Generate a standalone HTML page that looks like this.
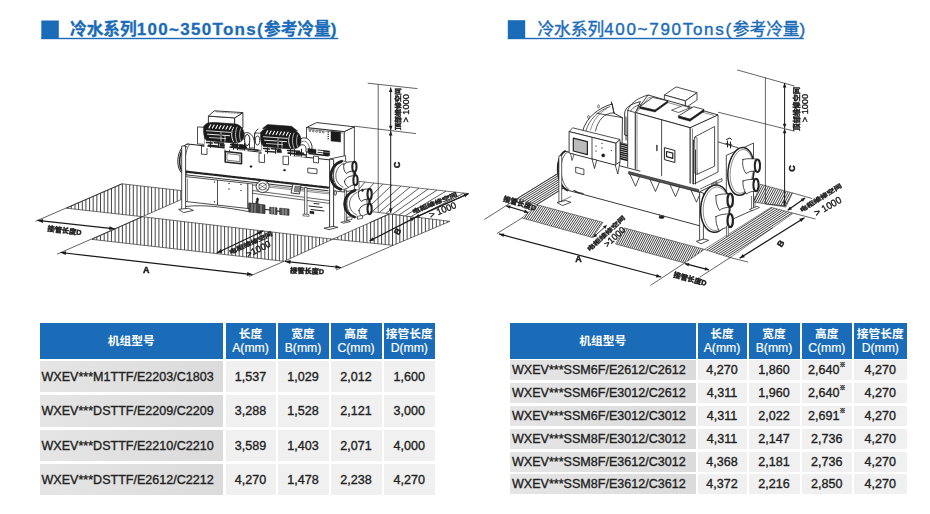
<!DOCTYPE html>
<html lang="zh">
<head>
<meta charset="utf-8">
<title>冷水系列</title>
<style>
html,body{margin:0;padding:0;background:#fff;}
body{width:930px;height:514px;position:relative;overflow:hidden;font-family:"Liberation Sans","Noto Sans CJK SC",sans-serif;color:#222;}
.ttl{position:absolute;top:20.4px;height:17.5px;color:#1a6bb8;font-size:16px;line-height:18px;white-space:nowrap;}

.ttl span{position:absolute;top:0.7px;}
.ttl em{font-style:normal;font-size:17px;letter-spacing:1.3px;}
.ttl .t2 em{letter-spacing:1.7px;}

.c{position:absolute;box-sizing:border-box;white-space:nowrap;overflow:hidden;}
.h{background:#1a6bb8;color:#fff;text-align:center;font-size:11.7px;line-height:14px;font-weight:bold;}
.h b{font-weight:normal;font-size:12.2px;-webkit-text-stroke:0.2px #fff;}
.g{background:linear-gradient(90deg,#e5e5e5,#dbdbdb);font-size:12.55px;padding-left:2px;-webkit-text-stroke:0.35px #222;}
.w{background:#f0f0f0;font-size:12.55px;text-align:center;-webkit-text-stroke:0.35px #222;}
svg{position:absolute;left:0;top:0;}
svg.dw{filter:grayscale(1);}
sup{font-size:6px;vertical-align:top;line-height:10px;}
</style>
</head>
<body>
<div class="ttl" style="left:41.3px;width:296.7px;font-weight:bold;-webkit-text-stroke:0.3px #1a6bb8;"><span style="left:28.7px;font-size:16.7px;">冷水系列<em>100~350Tons(</em>参考冷量<em>)</em></span></div>
<div class="ttl" style="left:507.8px;width:295.7px;font-weight:normal;"><span style="left:29.6px;font-size:16.7px;-webkit-text-stroke:0.4px #1a6bb8;" class="t2">冷水系列<em>400~790Tons(</em>参考冷量<em>)</em></span></div>
<svg width="930" height="60" viewBox="0 0 930 60"><g fill="#1a6bb8"><rect x="41.3" y="20.5" width="17.5" height="18.5"/><rect x="41.3" y="37.8" width="296.9" height="1.4"/><rect x="507.8" y="20.2" width="17.4" height="18.8"/><rect x="507.8" y="37.8" width="296" height="1.4"/></g></svg>
<div class="c h" style="left:39.5px;top:323px;width:183.5px;height:35.5px;line-height:35.5px;">机组型号</div>
<div class="c h" style="left:225.5px;top:323px;width:50.0px;height:35.5px;padding-top:3.75px;">长度<br><b>A(mm)</b></div>
<div class="c h" style="left:277.5px;top:323px;width:51.0px;height:35.5px;padding-top:3.75px;">宽度<br><b>B(mm)</b></div>
<div class="c h" style="left:330.5px;top:323px;width:51.0px;height:35.5px;padding-top:3.75px;">高度<br><b>C(mm)</b></div>
<div class="c h" style="left:383.5px;top:323px;width:51.5px;height:35.5px;padding-top:3.75px;">接管长度<br><b>D(mm)</b></div>
<div class="c g" style="left:39.5px;top:360.5px;width:183.5px;height:31.6px;line-height:32.6px;">WXEV***M1TTF/E2203/C1803</div>
<div class="c w" style="left:225.5px;top:360.5px;width:50.0px;height:31.6px;line-height:32.6px;">1,537</div>
<div class="c w" style="left:277.5px;top:360.5px;width:51.0px;height:31.6px;line-height:32.6px;">1,029</div>
<div class="c w" style="left:330.5px;top:360.5px;width:51.0px;height:31.6px;line-height:32.6px;">2,012</div>
<div class="c w" style="left:383.5px;top:360.5px;width:51.5px;height:31.6px;line-height:32.6px;">1,600</div>
<div class="c g" style="left:39.5px;top:395px;width:183.5px;height:31.6px;line-height:32.6px;">WXEV***DSTTF/E2209/C2209</div>
<div class="c w" style="left:225.5px;top:395px;width:50.0px;height:31.6px;line-height:32.6px;">3,288</div>
<div class="c w" style="left:277.5px;top:395px;width:51.0px;height:31.6px;line-height:32.6px;">1,528</div>
<div class="c w" style="left:330.5px;top:395px;width:51.0px;height:31.6px;line-height:32.6px;">2,121</div>
<div class="c w" style="left:383.5px;top:395px;width:51.5px;height:31.6px;line-height:32.6px;">3,000</div>
<div class="c g" style="left:39.5px;top:429.5px;width:183.5px;height:31.6px;line-height:32.6px;">WXEV***DSTTF/E2210/C2210</div>
<div class="c w" style="left:225.5px;top:429.5px;width:50.0px;height:31.6px;line-height:32.6px;">3,589</div>
<div class="c w" style="left:277.5px;top:429.5px;width:51.0px;height:31.6px;line-height:32.6px;">1,403</div>
<div class="c w" style="left:330.5px;top:429.5px;width:51.0px;height:31.6px;line-height:32.6px;">2,071</div>
<div class="c w" style="left:383.5px;top:429.5px;width:51.5px;height:31.6px;line-height:32.6px;">4,000</div>
<div class="c g" style="left:39.5px;top:463.8px;width:183.5px;height:31.6px;line-height:32.6px;">WXEV***DSTTF/E2612/C2212</div>
<div class="c w" style="left:225.5px;top:463.8px;width:50.0px;height:31.6px;line-height:32.6px;">4,270</div>
<div class="c w" style="left:277.5px;top:463.8px;width:51.0px;height:31.6px;line-height:32.6px;">1,478</div>
<div class="c w" style="left:330.5px;top:463.8px;width:51.0px;height:31.6px;line-height:32.6px;">2,238</div>
<div class="c w" style="left:383.5px;top:463.8px;width:51.5px;height:31.6px;line-height:32.6px;">4,270</div>
<div class="c h" style="left:510px;top:323px;width:185.5px;height:35.5px;line-height:35.5px;">机组型号</div>
<div class="c h" style="left:697.5px;top:323px;width:49.0px;height:35.5px;padding-top:3.75px;">长度<br><b>A(mm)</b></div>
<div class="c h" style="left:748.5px;top:323px;width:51.0px;height:35.5px;padding-top:3.75px;">宽度<br><b>B(mm)</b></div>
<div class="c h" style="left:801.5px;top:323px;width:50.5px;height:35.5px;padding-top:3.75px;">高度<br><b>C(mm)</b></div>
<div class="c h" style="left:854px;top:323px;width:52.5px;height:35.5px;padding-top:3.75px;">接管长度<br><b>D(mm)</b></div>
<div class="c g" style="left:510px;top:360.2px;width:185.5px;height:20.2px;line-height:21.2px;">WXEV***SSM6F/E2612/C2612</div>
<div class="c w" style="left:697.5px;top:360.2px;width:49.0px;height:20.2px;line-height:21.2px;">4,270</div>
<div class="c w" style="left:748.5px;top:360.2px;width:51.0px;height:20.2px;line-height:21.2px;">1,860</div>
<div class="c w" style="left:801.5px;top:360.2px;width:50.5px;height:20.2px;line-height:21.2px;">2,640<sup>※</sup></div>
<div class="c w" style="left:854px;top:360.2px;width:52.5px;height:20.2px;line-height:21.2px;">4,270</div>
<div class="c g" style="left:510px;top:383px;width:185.5px;height:20.2px;line-height:21.2px;">WXEV***SSM6F/E3012/C2612</div>
<div class="c w" style="left:697.5px;top:383px;width:49.0px;height:20.2px;line-height:21.2px;">4,311</div>
<div class="c w" style="left:748.5px;top:383px;width:51.0px;height:20.2px;line-height:21.2px;">1,960</div>
<div class="c w" style="left:801.5px;top:383px;width:50.5px;height:20.2px;line-height:21.2px;">2,640<sup>※</sup></div>
<div class="c w" style="left:854px;top:383px;width:52.5px;height:20.2px;line-height:21.2px;">4,270</div>
<div class="c g" style="left:510px;top:405.9px;width:185.5px;height:20.2px;line-height:21.2px;">WXEV***SSM6F/E3012/C3012</div>
<div class="c w" style="left:697.5px;top:405.9px;width:49.0px;height:20.2px;line-height:21.2px;">4,311</div>
<div class="c w" style="left:748.5px;top:405.9px;width:51.0px;height:20.2px;line-height:21.2px;">2,022</div>
<div class="c w" style="left:801.5px;top:405.9px;width:50.5px;height:20.2px;line-height:21.2px;">2,691<sup>※</sup></div>
<div class="c w" style="left:854px;top:405.9px;width:52.5px;height:20.2px;line-height:21.2px;">4,270</div>
<div class="c g" style="left:510px;top:428.7px;width:185.5px;height:20.2px;line-height:21.2px;">WXEV***SSM8F/E3012/C3012</div>
<div class="c w" style="left:697.5px;top:428.7px;width:49.0px;height:20.2px;line-height:21.2px;">4,311</div>
<div class="c w" style="left:748.5px;top:428.7px;width:51.0px;height:20.2px;line-height:21.2px;">2,147</div>
<div class="c w" style="left:801.5px;top:428.7px;width:50.5px;height:20.2px;line-height:21.2px;">2,736</div>
<div class="c w" style="left:854px;top:428.7px;width:52.5px;height:20.2px;line-height:21.2px;">4,270</div>
<div class="c g" style="left:510px;top:451.5px;width:185.5px;height:20.2px;line-height:21.2px;">WXEV***SSM8F/E3612/C3012</div>
<div class="c w" style="left:697.5px;top:451.5px;width:49.0px;height:20.2px;line-height:21.2px;">4,368</div>
<div class="c w" style="left:748.5px;top:451.5px;width:51.0px;height:20.2px;line-height:21.2px;">2,181</div>
<div class="c w" style="left:801.5px;top:451.5px;width:50.5px;height:20.2px;line-height:21.2px;">2,736</div>
<div class="c w" style="left:854px;top:451.5px;width:52.5px;height:20.2px;line-height:21.2px;">4,270</div>
<div class="c g" style="left:510px;top:474.3px;width:185.5px;height:20.2px;line-height:21.2px;">WXEV***SSM8F/E3612/C3612</div>
<div class="c w" style="left:697.5px;top:474.3px;width:49.0px;height:20.2px;line-height:21.2px;">4,372</div>
<div class="c w" style="left:748.5px;top:474.3px;width:51.0px;height:20.2px;line-height:21.2px;">2,216</div>
<div class="c w" style="left:801.5px;top:474.3px;width:50.5px;height:20.2px;line-height:21.2px;">2,850</div>
<div class="c w" style="left:854px;top:474.3px;width:52.5px;height:20.2px;line-height:21.2px;">4,270</div>
<svg class="dw" width="930" height="514" viewBox="0 0 930 514" font-family="Liberation Sans, Noto Sans CJK SC, sans-serif">
<defs>
<pattern id="hv" width="3.65" height="8" patternUnits="userSpaceOnUse" x="1.2"><rect x="0" y="0" width="1" height="8" fill="#4a4a4a"/></pattern>
<pattern id="hd" width="4.7" height="8" patternUnits="userSpaceOnUse" patternTransform="rotate(45)"><rect x="0" y="0" width="0.8" height="8" fill="#333"/></pattern>
</defs>
<g id="d1">
<path d="M195.4,192.2L195.4,193.3M191.8,191.8L191.8,194.9M188.1,191.3L188.1,196.5M184.5,190.9L184.5,198.1M180.8,190.5L180.8,199.7M177.2,190.1L177.2,201.3M173.5,189.7L173.5,202.9M169.8,189.3L169.8,204.6M166.2,188.8L166.2,206.2M162.6,188.4L162.6,207.8M158.9,188.0L158.9,209.4M155.2,187.6L155.2,211.0M151.6,187.2L151.6,212.6M148.0,186.8L148.0,214.2M144.3,186.3L144.3,215.8M140.7,185.9L140.7,216.5M137.0,185.5L137.0,216.1M133.3,185.1L133.3,215.7M129.7,184.7L129.7,215.3M126.0,214.9L126.1,184.3M122.4,183.8L122.4,214.5M118.8,214.1L118.8,185.2M115.1,213.7L115.1,186.8M111.4,213.2L111.5,188.4M107.8,190.0L107.8,212.8M104.2,191.6L104.2,212.4M100.5,212.0L100.5,193.2M96.8,211.6L96.9,194.8M93.2,196.4L93.2,211.2M89.6,198.0L89.6,210.8M85.9,199.6L85.9,210.4M82.3,201.2L82.3,210.0M78.6,202.8L78.6,209.6M75.0,204.4L75.0,209.2M71.3,206.0L71.3,208.7M67.7,207.7L67.7,208.3" stroke="#444" stroke-width="1.0" fill="none"/>
<polygon points="66.4,208.2 122.0,183.8 197.4,192.4 142.3,216.7" fill="none" stroke="#333" stroke-width="0.7" stroke-linejoin="round" />
<path d="M330.4,238.9L330.4,240.3M326.8,238.5L326.8,241.9M323.1,238.1L323.1,243.6M319.5,237.6L319.5,245.2M315.9,237.2L315.9,246.9M312.2,236.8L312.2,248.5M308.6,236.3L308.6,250.2M304.9,235.9L304.9,251.8M301.2,235.5L301.2,253.5M297.6,235.0L297.6,255.1M293.9,234.6L293.9,256.8M290.3,234.2L290.3,258.4M286.6,233.7L286.6,260.1M283.0,233.3L283.0,261.2M279.4,232.9L279.4,260.8M275.7,232.5L275.7,260.4M272.1,232.0L272.1,259.9M268.4,231.6L268.4,259.5M264.8,231.2L264.8,259.1M261.1,230.7L261.1,258.7M257.4,230.3L257.4,258.3M253.8,229.9L253.8,257.9M250.2,229.4L250.2,257.4M246.5,229.0L246.5,257.0M242.8,256.6L242.9,228.6M239.2,228.1L239.2,256.2M235.6,227.7L235.6,255.8M231.9,227.3L231.9,255.4M228.2,226.9L228.2,254.9M224.6,226.4L224.6,254.5M221.0,226.0L221.0,254.1M217.3,225.6L217.3,253.7M213.7,225.1L213.7,253.3M210.0,224.7L210.0,252.9M206.3,224.3L206.3,252.4M202.7,223.8L202.7,252.0M199.1,223.4L199.1,251.6M195.4,223.0L195.4,251.2M191.8,222.5L191.8,250.8M188.1,222.1L188.1,250.4M184.5,221.7L184.5,249.9M180.8,221.2L180.8,249.5M177.2,220.8L177.2,249.1M173.5,220.4L173.5,248.7M169.8,220.0L169.8,248.3M166.2,219.5L166.2,247.9M162.6,219.1L162.6,247.4M158.9,218.7L158.9,247.0M155.2,218.2L155.2,246.6M151.6,217.8L151.6,246.2M148.0,217.4L148.0,245.8M144.3,216.9L144.3,245.4M140.7,217.4L140.7,244.9M137.0,219.1L137.0,244.5M133.3,220.7L133.3,244.1M129.7,222.4L129.7,243.7M126.1,224.0L126.1,243.3M122.4,225.7L122.4,242.9M118.8,227.3L118.8,242.5M115.1,229.0L115.1,242.0M111.4,241.6L111.5,230.6M107.8,232.3L107.8,241.2M104.2,233.9L104.2,240.8M100.5,240.4L100.5,235.6M96.8,240.0L96.9,237.2M93.2,239.5L93.2,238.9" stroke="#444" stroke-width="1.0" fill="none"/>
<polygon points="142.3,216.7 332.8,239.2 284.0,261.3 92.0,239.4" fill="none" stroke="#333" stroke-width="0.7" stroke-linejoin="round" />
<path d="M447.2,221.0L447.2,222.5M443.6,220.5L443.6,224.0M439.9,220.1L439.9,225.5M436.3,219.6L436.3,227.1M432.6,219.1L432.6,228.6M429.0,218.7L429.0,230.2M425.4,218.2L425.4,231.7M421.7,217.8L421.7,233.3M418.1,217.3L418.1,234.8M414.4,216.9L414.4,236.3M410.8,216.4L410.8,237.9M407.1,216.0L407.1,239.4M403.4,215.5L403.4,241.0M399.8,215.1L399.8,242.5M396.1,214.6L396.1,244.1M392.5,214.1L392.5,245.2M388.9,214.2L388.9,244.9M385.2,215.8L385.2,244.5M381.6,217.4L381.6,244.1M377.9,219.1L377.9,243.8M374.2,220.7L374.2,243.4M370.6,222.3L370.6,243.0M366.9,224.0L366.9,242.6M363.3,225.6L363.3,242.3M359.6,227.2L359.6,241.9M356.0,228.8L356.0,241.5M352.4,230.5L352.4,241.2M348.7,232.1L348.7,240.8M345.1,233.7L345.1,240.4M341.4,235.4L341.4,240.1M337.8,237.0L337.8,239.7M334.1,238.6L334.1,239.3" stroke="#444" stroke-width="1.0" fill="none"/>
<polygon points="332.8,239.2 389.7,213.8 450.0,221.3 393.2,245.3" fill="none" stroke="#333" stroke-width="0.7" stroke-linejoin="round" />
<polygon points="359.0,181.4 468.5,193.6 415.0,217.3 389.7,213.8 359.0,210.2" fill="#fff" stroke="#333" stroke-width="0.7" stroke-linejoin="round" />
<path d="M359.0,189.2L365.0,182.1M359.0,199.6L374.0,183.1M359.0,208.6L383.0,184.1M365.3,210.4L392.0,185.1M372.4,211.4L401.0,186.1M379.3,212.4L410.0,187.1M386.0,213.3L419.0,188.1M392.6,214.1L428.0,189.1M399.1,214.9L437.0,190.1M405.4,215.6L446.0,191.1M411.4,216.3L455.0,192.1M426.5,212.2L464.0,193.1" stroke="#333" stroke-width="0.8" fill="none"/>
<polygon points="306.5,127.5 344.3,131.6 344.3,192.0 306.5,188.0" fill="#fff" stroke="#222" stroke-width="0.8" stroke-linejoin="round" />
<polygon points="344.3,131.6 354.4,126.8 354.4,190.0 344.3,192.0" fill="#fff" stroke="#222" stroke-width="0.8" stroke-linejoin="round" />
<polygon points="306.5,127.5 344.3,131.6 354.4,126.8 316.6,122.6" fill="#fff" stroke="#222" stroke-width="0.9" stroke-linejoin="round" />
<line x1="308.0" y1="129.2" x2="343.0" y2="133.0" stroke="#222" stroke-width="0.5" />
<ellipse cx="310.0" cy="130.7" rx="0.9" ry="0.9" fill="#fff" stroke="#222" stroke-width="0.6"/>
<ellipse cx="313.3" cy="131.1" rx="0.9" ry="0.9" fill="#fff" stroke="#222" stroke-width="0.6"/>
<ellipse cx="316.6" cy="131.4" rx="0.9" ry="0.9" fill="#fff" stroke="#222" stroke-width="0.6"/>
<ellipse cx="319.9" cy="131.8" rx="0.9" ry="0.9" fill="#fff" stroke="#222" stroke-width="0.6"/>
<ellipse cx="323.2" cy="132.1" rx="0.9" ry="0.9" fill="#fff" stroke="#222" stroke-width="0.6"/>
<polygon points="331.0,131.2 340.6,132.2 340.6,142.0 331.0,141.0" fill="#1a1a1a" stroke="#222" stroke-width="0.5" stroke-linejoin="round" />
<rect x="327.6" y="131.5" width="1.2" height="1.2" fill="#1a1a1a"/>
<rect x="327.6" y="133.7" width="1.2" height="1.2" fill="#1a1a1a"/>
<rect x="327.6" y="135.9" width="1.2" height="1.2" fill="#1a1a1a"/>
<rect x="327.6" y="138.1" width="1.2" height="1.2" fill="#1a1a1a"/>
<polygon points="323.5,150.3 329.7,151.0 329.7,155.8 323.5,155.1" fill="#1a1a1a" stroke="#222" stroke-width="0.4" stroke-linejoin="round" />
<line x1="323.5" y1="152.0" x2="329.7" y2="152.7" stroke="#fff" stroke-width="0.4" />
<path d="M299,140 C303,136 310,137 312,146 L312,152 L306,152 L306,148 C305,144 302,144 299,146 Z" fill="#fff" stroke="#222" stroke-width="0.9" stroke-linejoin="round" stroke-linecap="round" />
<path d="M302,141.5 C306,140 309,143 309.5,149" fill="none" stroke="#222" stroke-width="0.6" stroke-linejoin="round" stroke-linecap="round" />
<polygon points="187.7,144.0 330.8,160.0 330.8,191.0 184.8,174.7" fill="#fff" stroke="none" stroke-width="0.8" stroke-linejoin="round" />
<path d="M187.7,144 L330.8,160" fill="none" stroke="#222" stroke-width="1.0" stroke-linejoin="round" stroke-linecap="round" />
<path d="M184.8,174.7 L328,190.7" fill="none" stroke="#222" stroke-width="0.9" stroke-linejoin="round" stroke-linecap="round" />
<path d="M185.6,171.6 L328,187.6" fill="none" stroke="#222" stroke-width="2.2" stroke-linejoin="round" stroke-linecap="round" stroke-dasharray="3 1.2"/>
<path d="M187.7,144 C176,146 174,172 184.8,174.7" fill="#fff" stroke="#222" stroke-width="1.0" stroke-linejoin="round" stroke-linecap="round" />
<path d="M186,146.5 C178.5,150 177.5,169 183.8,172.5" fill="none" stroke="#222" stroke-width="1.6" stroke-linejoin="round" stroke-linecap="round" stroke-dasharray="1.6 1"/>
<path d="M189.5,144.3 C184.5,150 184,168 186.8,174.9" fill="none" stroke="#222" stroke-width="0.7" stroke-linejoin="round" stroke-linecap="round" />
<polygon points="185.6,176.6 247.9,183.4 247.9,208.5 185.6,201.5" fill="#fff" stroke="#222" stroke-width="0.8" stroke-linejoin="round" />
<polygon points="247.9,183.4 252.6,183.9 252.6,209.0 247.9,208.5" fill="#fff" stroke="#222" stroke-width="0.7" stroke-linejoin="round" />
<line x1="217.5" y1="180.1" x2="217.5" y2="205.0" stroke="#222" stroke-width="0.8" />
<line x1="187.5" y1="178.8" x2="187.5" y2="201.5" stroke="#222" stroke-width="0.5" />
<ellipse cx="214.5" cy="182.0" rx="0.6" ry="0.6" fill="#1a1a1a" stroke="#222" stroke-width="0.2"/>
<ellipse cx="214.5" cy="201.8" rx="0.6" ry="0.6" fill="#1a1a1a" stroke="#222" stroke-width="0.2"/>
<ellipse cx="229.0" cy="189.0" rx="0.6" ry="0.6" fill="#1a1a1a" stroke="#222" stroke-width="0.2"/>
<ellipse cx="241.0" cy="190.5" rx="0.6" ry="0.6" fill="#1a1a1a" stroke="#222" stroke-width="0.2"/>
<ellipse cx="241.0" cy="184.5" rx="0.6" ry="0.6" fill="#1a1a1a" stroke="#222" stroke-width="0.2"/>
<ellipse cx="229.0" cy="183.3" rx="0.6" ry="0.6" fill="#1a1a1a" stroke="#222" stroke-width="0.2"/>
<polygon points="181.7,146.0 185.6,146.0 185.6,209.5 181.7,209.5" fill="#fff" stroke="#222" stroke-width="0.8" stroke-linejoin="round" />
<polygon points="178.6,209.3 188.5,208.3 193.4,210.4 183.5,212.6" fill="#fff" stroke="#222" stroke-width="0.8" stroke-linejoin="round" />
<path d="M185.6,206.5 C205,204 230,208 248,211.5" fill="none" stroke="#222" stroke-width="0.8" stroke-linejoin="round" stroke-linecap="round" />
<polygon points="252.6,190.5 329.6,200.6 329.6,203.4 252.6,193.3" fill="#fff" stroke="#222" stroke-width="0.7" stroke-linejoin="round" />
<polygon points="252.6,183.9 329.6,192.6 329.6,194.0 252.6,185.3" fill="#fff" stroke="#222" stroke-width="0.5" stroke-linejoin="round" />
<ellipse cx="262.6" cy="186.5" rx="6.5" ry="6.0" fill="#fff" stroke="#222" stroke-width="0.9"/>
<ellipse cx="262.6" cy="186.5" rx="3.8" ry="3.5" fill="#fff" stroke="#222" stroke-width="0.7"/>
<path d="M257,183 L268,190 M268,183 L257,190" fill="none" stroke="#222" stroke-width="0.5" stroke-linejoin="round" stroke-linecap="round" />
<polygon points="293.0,184.0 301.0,185.0 299.5,194.0 291.0,193.0" fill="#fff" stroke="#222" stroke-width="0.9" stroke-linejoin="round" />
<polygon points="295.0,186.0 300.0,186.6 299.0,192.0 294.0,191.4" fill="#888" stroke="#222" stroke-width="0.4" stroke-linejoin="round" />
<polygon points="304.6,187.4 307.0,187.7 307.0,214.8 304.6,214.5" fill="#fff" stroke="#222" stroke-width="0.7" stroke-linejoin="round" />
<polygon points="303.0,214.0 309.0,214.6 309.0,216.4 303.0,215.8" fill="#fff" stroke="#222" stroke-width="0.6" stroke-linejoin="round" />
<path d="M249,203 L256,203.5 L256,201 L258,201 L258,204 L265,205 L265,213.5 L249,212 Z" fill="#444" stroke="#222" stroke-width="0.7" stroke-linejoin="round" stroke-linecap="round" />
<path d="M252,204 L252,212 M255,204.5 L255,212.3 M261,205 L261,213" fill="none" stroke="#fff" stroke-width="0.5" stroke-linejoin="round" stroke-linecap="round" />
<ellipse cx="257.5" cy="199.5" rx="1.2" ry="1.8" fill="#1a1a1a" stroke="#222" stroke-width="0.3"/>
<path d="M270,207.2 L277,207.9 L277,214.4 L270,213.7 Z M280,208.2 L289,209.1 L289,215.3 L280,214.4 Z" fill="#555" stroke="#222" stroke-width="0.7" stroke-linejoin="round" stroke-linecap="round" />
<path d="M272,207.5 L272,213.8 M274.5,207.7 L274.5,214 M283,208.5 L283,214.6 M286,208.8 L286,215" fill="none" stroke="#fff" stroke-width="0.5" stroke-linejoin="round" stroke-linecap="round" />
<line x1="265.0" y1="209.5" x2="270.0" y2="210.0" stroke="#222" stroke-width="1.2" />
<line x1="277.0" y1="211.0" x2="280.0" y2="211.3" stroke="#222" stroke-width="1.2" />
<path d="M309,206 L322,207.5 M311,209.5 L324,211 M314,203.5 L319,204" fill="none" stroke="#222" stroke-width="1.0" stroke-linejoin="round" stroke-linecap="round" />
<path d="M310,211 l4,0.5 l0,2.5 l-4,-0.5 Z" fill="#1a1a1a" stroke="#222" stroke-width="0.3" stroke-linejoin="round" stroke-linecap="round" />
<polygon points="307.8,168.0 317.0,169.0 317.0,173.8 307.8,172.8" fill="#fff" stroke="#222" stroke-width="0.8" stroke-linejoin="round" />
<ellipse cx="284.5" cy="170.2" rx="1.2" ry="0.9" fill="#1a1a1a" stroke="#222" stroke-width="0.3"/>
<ellipse cx="251.0" cy="166.5" rx="1.2" ry="0.9" fill="#1a1a1a" stroke="#222" stroke-width="0.3"/>
<polygon points="329.6,159.0 345.6,155.6 345.6,163.0 333.6,166.0" fill="#fff" stroke="#222" stroke-width="0.8" stroke-linejoin="round" />
<polygon points="329.6,159.0 333.6,159.6 333.6,227.5 329.6,227.9" fill="#fff" stroke="#222" stroke-width="0.9" stroke-linejoin="round" />
<polygon points="324.0,228.2 333.0,226.4 337.8,227.3 329.0,229.6" fill="#fff" stroke="#222" stroke-width="0.8" stroke-linejoin="round" />
<polygon points="344.8,190.0 346.6,190.0 346.6,221.5 344.8,221.5" fill="#fff" stroke="#222" stroke-width="0.7" stroke-linejoin="round" />
<polygon points="340.8,222.2 348.0,220.8 350.5,221.6 343.5,223.2" fill="#fff" stroke="#222" stroke-width="0.7" stroke-linejoin="round" />
<ellipse cx="343.4" cy="175.2" rx="10.0" ry="14.2" fill="#fff" stroke="#222" stroke-width="0.7"/>
<path d="M341.6,161.3 C327,166 328,186 340.8,189.3" fill="none" stroke="#222" stroke-width="2.8" stroke-linejoin="round" stroke-linecap="round" />
<path d="M343.5,163.5 C333,168 333.5,183.5 343,187" fill="none" stroke="#222" stroke-width="0.7" stroke-linejoin="round" stroke-linecap="round" />
<path d="M344,164.2 C347,161.5 351,161.5 354,162.2 L354.6,171.3 C351,170.8 348.5,171.5 346.5,173.5 C344,171.5 343,167.5 344,164.2 Z" fill="#fff" stroke="#222" stroke-width="0.9" stroke-linejoin="round" stroke-linecap="round" />
<path d="M344.5,181.5 C345,178 349,175.8 355,175.6 L355.8,184.8 C352.5,184.6 350.5,185.6 349,187.5 C346.5,186.5 345,184.5 344.5,181.5 Z" fill="#fff" stroke="#222" stroke-width="0.9" stroke-linejoin="round" stroke-linecap="round" />
<ellipse cx="354.4" cy="166.8" rx="2.1" ry="4.9" fill="#fff" stroke="#222" stroke-width="2.1"/>
<ellipse cx="355.5" cy="180.2" rx="2.1" ry="4.9" fill="#fff" stroke="#222" stroke-width="2.1"/>
<ellipse cx="354.9" cy="173.5" rx="1.1" ry="1.8" fill="#1a1a1a" stroke="#222" stroke-width="0.4"/>
<ellipse cx="357.0" cy="203.5" rx="10.2" ry="13.8" fill="#fff" stroke="#222" stroke-width="0.7"/>
<path d="M355,190.3 C341,195 341.5,213 354.5,217" fill="none" stroke="#222" stroke-width="2.8" stroke-linejoin="round" stroke-linecap="round" />
<path d="M357,192.5 C347,196.5 347,211 356.5,214.8" fill="none" stroke="#222" stroke-width="0.7" stroke-linejoin="round" stroke-linecap="round" />
<path d="M358.5,191.8 C361.5,189.2 365.5,188.8 369,189.2 L369.8,199.2 C366,198.8 363.5,199.5 361.5,201.5 C359,199.5 357.8,195.5 358.5,191.8 Z" fill="#fff" stroke="#222" stroke-width="0.9" stroke-linejoin="round" stroke-linecap="round" />
<path d="M359,210.5 C359.5,207 363.5,204.2 369.2,203.7 L370,213.8 C366.5,213.6 364.5,214.6 363,216.5 C360.5,215.5 359.2,213.5 359,210.5 Z" fill="#fff" stroke="#222" stroke-width="0.9" stroke-linejoin="round" stroke-linecap="round" />
<ellipse cx="369.6" cy="194.2" rx="2.1" ry="5.3" fill="#fff" stroke="#222" stroke-width="2.1"/>
<ellipse cx="369.6" cy="208.8" rx="2.1" ry="5.3" fill="#fff" stroke="#222" stroke-width="2.1"/>
<ellipse cx="369.4" cy="201.5" rx="1.1" ry="1.8" fill="#1a1a1a" stroke="#222" stroke-width="0.4"/>
<ellipse cx="362.5" cy="190.3" rx="1.0" ry="1.4" fill="#1a1a1a" stroke="#222" stroke-width="0.3"/>
<polygon points="347.0,217.3 352.0,216.5 352.0,219.5 347.0,220.3" fill="#fff" stroke="#222" stroke-width="0.7" stroke-linejoin="round" />
<polygon points="357.5,216.3 362.5,215.3 362.5,218.3 357.5,219.3" fill="#fff" stroke="#222" stroke-width="0.7" stroke-linejoin="round" />
<ellipse cx="335.2" cy="193.0" rx="1.2" ry="2.2" fill="#fff" stroke="#222" stroke-width="0.9"/>
<polygon points="208.4,116.1 234.7,117.9 234.7,126.0 208.4,124.0" fill="#fff" stroke="#222" stroke-width="0.9" stroke-linejoin="round" />
<polygon points="234.7,117.9 242.9,112.6 242.9,128.0 234.7,128.0" fill="#fff" stroke="#222" stroke-width="0.9" stroke-linejoin="round" />
<polygon points="214.3,110.8 242.9,112.6 234.7,117.9 208.4,116.1" fill="#fff" stroke="#222" stroke-width="0.9" stroke-linejoin="round" />
<path d="M216,111.8 L241,113.7" fill="none" stroke="#222" stroke-width="0.5" stroke-linejoin="round" stroke-linecap="round" stroke-dasharray="1.5 1.5"/>
<polygon points="201.5,146.2 207.0,146.5 207.0,154.5 201.5,154.2" fill="#fff" stroke="#222" stroke-width="0.8" stroke-linejoin="round" />
<polygon points="225.0,146.8 229.5,147.1 229.5,152.6 225.0,152.3" fill="#fff" stroke="#222" stroke-width="0.8" stroke-linejoin="round" />
<polygon points="197.5,126.9 204.5,127.4 204.5,144.4 197.5,143.9" fill="#fff" stroke="#222" stroke-width="0.8" stroke-linejoin="round" />
<polygon points="204.5,138.4 243.5,141.1 247.5,145.4 247.5,150.9 204.5,147.9" fill="#fff" stroke="none" stroke-width="0.8" stroke-linejoin="round" />
<path d="M204.0,126.3C205.5,122.9 209.5,122.2 215.5,122.6L235.5,124.0C241.5,125.0 244.5,130.2 244.0,136.1C243.5,141.1 239.5,143.3 233.5,142.9L206.5,140.5C203.5,137.3 203.0,130.3 204.0,126.3Z" fill="#1a1a1a" stroke="#222" stroke-width="0.7" stroke-linejoin="round" stroke-linecap="round" />
<path d="M209.0,127.9L210.7,124.8" fill="none" stroke="#fff" stroke-width="1.1" stroke-linejoin="round" stroke-linecap="round" />
<path d="M212.4,128.1L214.1,125.0" fill="none" stroke="#fff" stroke-width="1.1" stroke-linejoin="round" stroke-linecap="round" />
<path d="M215.8,128.4L217.5,125.3" fill="none" stroke="#fff" stroke-width="1.1" stroke-linejoin="round" stroke-linecap="round" />
<path d="M219.2,128.6L220.9,125.5" fill="none" stroke="#fff" stroke-width="1.1" stroke-linejoin="round" stroke-linecap="round" />
<path d="M222.6,128.8L224.3,125.8" fill="none" stroke="#fff" stroke-width="1.1" stroke-linejoin="round" stroke-linecap="round" />
<path d="M226.0,129.1L227.7,126.0" fill="none" stroke="#fff" stroke-width="1.1" stroke-linejoin="round" stroke-linecap="round" />
<path d="M229.4,129.3L231.1,126.2" fill="none" stroke="#fff" stroke-width="1.1" stroke-linejoin="round" stroke-linecap="round" />
<path d="M206.5,130.7L230.5,132.4" fill="none" stroke="#fff" stroke-width="0.8" stroke-linejoin="round" stroke-linecap="round" />
<path d="M207.5,134.2L219.5,135.0M222.5,135.2L229.5,135.7" fill="none" stroke="#fff" stroke-width="0.9" stroke-linejoin="round" stroke-linecap="round" />
<path d="M209.5,137.5L225.5,138.6" fill="none" stroke="#fff" stroke-width="0.7" stroke-linejoin="round" stroke-linecap="round" />
<path d="M221.0,132.5L221.0,141.0M225.0,136.3L225.0,141.3" fill="none" stroke="#fff" stroke-width="0.7" stroke-linejoin="round" stroke-linecap="round" />
<path d="M233.5,127.4C231.0,131.2 231.0,137.2 233.5,141.9" fill="none" stroke="#fff" stroke-width="0.9" stroke-linejoin="round" stroke-linecap="round" />
<path d="M237.0,127.1C235.0,131.5 235.0,137.5 237.0,142.1" fill="none" stroke="#fff" stroke-width="0.7" stroke-linejoin="round" stroke-linecap="round" />
<path d="M240.5,128.9C239.2,132.8 239.2,136.8 240.5,140.9" fill="none" stroke="#fff" stroke-width="0.6" stroke-linejoin="round" stroke-linecap="round" />
<path d="M206.5,142.5L212.5,142.9M214.5,142.7L223.5,143.3M230.5,144.4L242.5,145.2M208.5,145.2L217.5,145.9M231.5,147.3L239.5,147.8M241.5,147.0L246.5,147.3" fill="none" stroke="#222" stroke-width="1.5" stroke-linejoin="round" stroke-linecap="round" />
<path d="M210.5,141.8L210.5,147.3M218.5,142.4L218.5,147.4M233.5,143.4L233.5,149.4M237.5,143.7L237.5,149.7M244.5,143.2L244.5,150.2" fill="none" stroke="#222" stroke-width="1.0" stroke-linejoin="round" stroke-linecap="round" />
<path d="M220.0,144.0L224.5,144.3L224.5,146.8L220.0,146.5Z" fill="#1a1a1a" stroke="#222" stroke-width="0.4" stroke-linejoin="round" stroke-linecap="round" />
<path d="M239.0,145.6L243.5,145.9L243.5,149.6L239.0,149.3Z" fill="#1a1a1a" stroke="#222" stroke-width="0.4" stroke-linejoin="round" stroke-linecap="round" />
<path d="M244.5,133 C250,131 254,136 254.5,143 L254.5,148 L249.5,148 L249.5,144 C249,140 247,139 244.5,139.5 Z" fill="#fff" stroke="#222" stroke-width="0.9" stroke-linejoin="round" stroke-linecap="round" />
<ellipse cx="247.2" cy="140.0" rx="2.6" ry="5.5" fill="#fff" stroke="#222" stroke-width="1.0"/>
<polygon points="225.2,151.5 241.5,153.3 241.5,163.8 225.2,162.0" fill="#fff" stroke="#222" stroke-width="1.6" stroke-linejoin="round" />
<polygon points="227.0,153.6 239.8,155.0 239.8,161.6 227.0,160.2" fill="#fff" stroke="#222" stroke-width="0.6" stroke-linejoin="round" />
<polygon points="259.0,153.2 264.5,153.6 264.5,162.6 259.0,162.2" fill="#fff" stroke="#222" stroke-width="0.8" stroke-linejoin="round" />
<polygon points="283.0,155.9 288.5,156.3 288.5,164.8 283.0,164.4" fill="#fff" stroke="#222" stroke-width="0.8" stroke-linejoin="round" />
<polygon points="254.5,132.9 261.5,133.4 261.5,150.4 254.5,149.9" fill="#fff" stroke="#222" stroke-width="0.8" stroke-linejoin="round" />
<polygon points="261.5,144.4 300.5,147.1 304.5,151.4 304.5,156.9 261.5,153.9" fill="#fff" stroke="none" stroke-width="0.8" stroke-linejoin="round" />
<path d="M261.0,132.3C262.5,128.9 266.5,128.2 272.5,128.6L292.5,130.0C298.5,131.0 301.5,136.2 301.0,142.1C300.5,147.1 296.5,149.3 290.5,148.9L263.5,146.5C260.5,143.3 260.0,136.3 261.0,132.3Z" fill="#1a1a1a" stroke="#222" stroke-width="0.7" stroke-linejoin="round" stroke-linecap="round" />
<path d="M266.0,133.9L267.7,130.8" fill="none" stroke="#fff" stroke-width="1.1" stroke-linejoin="round" stroke-linecap="round" />
<path d="M269.4,134.1L271.1,131.0" fill="none" stroke="#fff" stroke-width="1.1" stroke-linejoin="round" stroke-linecap="round" />
<path d="M272.8,134.4L274.5,131.3" fill="none" stroke="#fff" stroke-width="1.1" stroke-linejoin="round" stroke-linecap="round" />
<path d="M276.2,134.6L277.9,131.5" fill="none" stroke="#fff" stroke-width="1.1" stroke-linejoin="round" stroke-linecap="round" />
<path d="M279.6,134.8L281.3,131.8" fill="none" stroke="#fff" stroke-width="1.1" stroke-linejoin="round" stroke-linecap="round" />
<path d="M283.0,135.1L284.7,132.0" fill="none" stroke="#fff" stroke-width="1.1" stroke-linejoin="round" stroke-linecap="round" />
<path d="M286.4,135.3L288.1,132.2" fill="none" stroke="#fff" stroke-width="1.1" stroke-linejoin="round" stroke-linecap="round" />
<path d="M263.5,136.7L287.5,138.4" fill="none" stroke="#fff" stroke-width="0.8" stroke-linejoin="round" stroke-linecap="round" />
<path d="M264.5,140.2L276.5,141.0M279.5,141.2L286.5,141.7" fill="none" stroke="#fff" stroke-width="0.9" stroke-linejoin="round" stroke-linecap="round" />
<path d="M266.5,143.5L282.5,144.6" fill="none" stroke="#fff" stroke-width="0.7" stroke-linejoin="round" stroke-linecap="round" />
<path d="M278.0,138.5L278.0,147.0M282.0,142.3L282.0,147.3" fill="none" stroke="#fff" stroke-width="0.7" stroke-linejoin="round" stroke-linecap="round" />
<path d="M290.5,133.4C288.0,137.2 288.0,143.2 290.5,147.9" fill="none" stroke="#fff" stroke-width="0.9" stroke-linejoin="round" stroke-linecap="round" />
<path d="M294.0,133.1C292.0,137.5 292.0,143.5 294.0,148.1" fill="none" stroke="#fff" stroke-width="0.7" stroke-linejoin="round" stroke-linecap="round" />
<path d="M297.5,134.9C296.2,138.8 296.2,142.8 297.5,146.9" fill="none" stroke="#fff" stroke-width="0.6" stroke-linejoin="round" stroke-linecap="round" />
<path d="M263.5,148.5L269.5,148.9M271.5,148.7L280.5,149.3M287.5,150.4L299.5,151.2M265.5,151.2L274.5,151.9M288.5,153.3L296.5,153.8M298.5,153.0L303.5,153.3" fill="none" stroke="#222" stroke-width="1.5" stroke-linejoin="round" stroke-linecap="round" />
<path d="M267.5,147.8L267.5,153.3M275.5,148.4L275.5,153.4M290.5,149.4L290.5,155.4M294.5,149.7L294.5,155.7M301.5,149.2L301.5,156.2" fill="none" stroke="#222" stroke-width="1.0" stroke-linejoin="round" stroke-linecap="round" />
<path d="M277.0,150.0L281.5,150.3L281.5,152.8L277.0,152.5Z" fill="#1a1a1a" stroke="#222" stroke-width="0.4" stroke-linejoin="round" stroke-linecap="round" />
<path d="M296.0,151.6L300.5,151.9L300.5,155.6L296.0,155.3Z" fill="#1a1a1a" stroke="#222" stroke-width="0.4" stroke-linejoin="round" stroke-linecap="round" />
<polygon points="262.5,128.5 267.5,124.6 291.5,126.3 297.5,131.0" fill="#1a1a1a" stroke="#222" stroke-width="0.6" stroke-linejoin="round" />
<path d="M258,129 C254,131 253,140 257,144" fill="none" stroke="#222" stroke-width="0.9" stroke-linejoin="round" stroke-linecap="round" />
<ellipse cx="257.5" cy="140.5" rx="2.2" ry="4.5" fill="#fff" stroke="#222" stroke-width="0.9"/>
<path d="M208,146 L224,147.8 M230,147 L258,150.2 M288,153 L306,155 M309,153.5 L328,155.8" fill="none" stroke="#222" stroke-width="1.5" stroke-linejoin="round" stroke-linecap="round" />
<path d="M232,143.5 l5,0.6 l0,3 l-5,-0.6 Z M240,144.5 l6,0.7 l0,3.5 l-6,-0.7 Z" fill="#1a1a1a" stroke="#222" stroke-width="0.5" stroke-linejoin="round" stroke-linecap="round" />
<path d="M308,148.5 l8,0.9 l0,4 l-8,-0.9 Z" fill="#1a1a1a" stroke="#222" stroke-width="0.5" stroke-linejoin="round" stroke-linecap="round" />
<path d="M318,150 l6,0.7 M318,152.3 l6,0.7" fill="none" stroke="#222" stroke-width="0.9" stroke-linejoin="round" stroke-linecap="round" />
<polygon points="313.5,156.0 318.5,156.6 318.5,163.0 313.5,162.4" fill="#fff" stroke="#222" stroke-width="0.8" stroke-linejoin="round" />
<line x1="122.0" y1="183.8" x2="35.5" y2="221.3" stroke="#222" stroke-width="0.7" />
<line x1="142.3" y1="216.7" x2="57.0" y2="254.2" stroke="#222" stroke-width="0.7" />
<line x1="284.0" y1="261.3" x2="249.0" y2="276.5" stroke="#222" stroke-width="0.7" />
<line x1="393.2" y1="245.3" x2="336.0" y2="270.0" stroke="#222" stroke-width="0.7" />
<line x1="389.7" y1="213.8" x2="369.5" y2="222.8" stroke="#222" stroke-width="0.7" />
<line x1="37.5" y1="220.4" x2="114.8" y2="228.8" stroke="#1a1a1a" stroke-width="1.25" />
<polygon points="114.8,228.8 109.1,230.1 109.5,226.3" fill="#1a1a1a"/>
<polygon points="37.5,220.4 43.2,219.1 42.8,222.9" fill="#1a1a1a"/>
<line x1="60.5" y1="252.5" x2="252.5" y2="274.6" stroke="#1a1a1a" stroke-width="1.25" />
<polygon points="252.5,274.6 246.8,275.9 247.3,272.1" fill="#1a1a1a"/>
<polygon points="60.5,252.5 66.2,251.2 65.7,255.0" fill="#1a1a1a"/>
<line x1="285.0" y1="261.4" x2="341.0" y2="267.5" stroke="#1a1a1a" stroke-width="1.25" />
<polygon points="341.0,267.5 335.3,268.8 335.7,265.0" fill="#1a1a1a"/>
<polygon points="285.0,261.4 290.7,260.1 290.3,263.9" fill="#1a1a1a"/>
<line x1="216.7" y1="253.0" x2="263.4" y2="230.8" stroke="#1a1a1a" stroke-width="1.25" />
<polygon points="263.4,230.8 259.2,234.9 257.6,231.4" fill="#1a1a1a"/>
<polygon points="216.7,253.0 220.9,248.9 222.5,252.4" fill="#1a1a1a"/>
<line x1="369.5" y1="241.0" x2="415.0" y2="217.6" stroke="#1a1a1a" stroke-width="1.25" />
<polygon points="415.0,217.6 411.9,221.3 410.1,218.0" fill="#1a1a1a"/>
<polygon points="369.5,241.0 372.6,237.3 374.4,240.6" fill="#1a1a1a"/>
<line x1="415.0" y1="217.6" x2="468.5" y2="193.6" stroke="#1a1a1a" stroke-width="1.25" />
<polygon points="468.5,193.6 465.2,197.2 463.6,193.7" fill="#1a1a1a"/>
<polygon points="415.0,217.6 418.3,214.0 419.9,217.5" fill="#1a1a1a"/>
<line x1="378.2" y1="84.3" x2="378.2" y2="212.0" stroke="#222" stroke-width="0.7" />
<line x1="367.7" y1="83.2" x2="417.4" y2="88.6" stroke="#222" stroke-width="0.7" />
<line x1="354.4" y1="126.2" x2="416.0" y2="133.6" stroke="#222" stroke-width="0.7" />
<line x1="390.7" y1="87.5" x2="390.7" y2="130.3" stroke="#1a1a1a" stroke-width="1.0" />
<polygon points="390.7,130.3 388.9,125.8 392.5,125.8" fill="#1a1a1a"/>
<polygon points="390.7,87.5 392.5,92.0 388.9,92.0" fill="#1a1a1a"/>
<line x1="390.7" y1="130.9" x2="390.7" y2="212.9" stroke="#1a1a1a" stroke-width="1.0" />
<polygon points="390.7,212.9 388.9,208.4 392.5,208.4" fill="#1a1a1a"/>
<polygon points="390.7,130.9 392.5,135.4 388.9,135.4" fill="#1a1a1a"/>
<text transform="translate(64.5 230.6) rotate(7) scale(1 1.0)" x="0" y="2.59" font-size="7.2" font-weight="bold" text-anchor="middle" fill="#1a1a1a" stroke="#1a1a1a" stroke-width="0.45">接管长度D</text>
<text transform="translate(146.3 270.0) rotate(0) scale(1 1.0)" x="0" y="3.24" font-size="9" font-weight="bold" text-anchor="middle" fill="#1a1a1a" stroke="#1a1a1a" stroke-width="0.45">A</text>
<text transform="translate(307.0 271.0) rotate(2) scale(1 1.0)" x="0" y="2.59" font-size="7.2" font-weight="bold" text-anchor="middle" fill="#1a1a1a" stroke="#1a1a1a" stroke-width="0.45">接管长度D</text>
<text transform="translate(250.8 243.0) rotate(-24) scale(1 0.75)" x="0" y="2.81" font-size="7.8" font-weight="bold" text-anchor="middle" fill="#1a1a1a" stroke="#1a1a1a" stroke-width="0.45">电柜维修空间</text>
<text transform="translate(258.2 248.9) rotate(-27) scale(1 1.0)" x="0" y="3.35" font-size="9.3" font-weight="normal" text-anchor="middle" fill="#1a1a1a" stroke="#1a1a1a" stroke-width="0.35">&gt;1000</text>
<text transform="translate(434.7 203.0) rotate(-22.2) scale(1 0.72)" x="0" y="2.88" font-size="8" font-weight="bold" text-anchor="middle" fill="#1a1a1a" stroke="#1a1a1a" stroke-width="0.45">电柜维修空间</text>
<text transform="translate(442.6 209.8) rotate(-22) scale(1 1.0)" x="0" y="3.31" font-size="9.2" font-weight="normal" text-anchor="middle" fill="#1a1a1a" stroke="#1a1a1a" stroke-width="0.35">&gt; 1000</text>
<text transform="translate(397.5 231.4) rotate(-62) scale(1 1.0)" x="0" y="3.06" font-size="8.5" font-weight="bold" text-anchor="middle" fill="#1a1a1a" stroke="#1a1a1a" stroke-width="0.45">B</text>
<text transform="translate(397.0 165.0) rotate(-90) scale(1 1.0)" x="0" y="3.24" font-size="9" font-weight="bold" text-anchor="middle" fill="#1a1a1a" stroke="#1a1a1a" stroke-width="0.45">C</text>
<text transform="translate(397.4 109.0) rotate(-90) scale(1 0.88)" x="0" y="2.54" font-size="7.05" font-weight="bold" text-anchor="middle" fill="#1a1a1a" stroke="#1a1a1a" stroke-width="0.45">顶部维修空间</text>
<text transform="translate(405.9 108.4) rotate(-90) scale(1 1.0)" x="0" y="3.31" font-size="9.2" font-weight="normal" text-anchor="middle" fill="#1a1a1a" stroke="#1a1a1a" stroke-width="0.35">&gt; 1000</text>
</g>
<defs>
<pattern id="hb" width="1.9" height="8" patternUnits="userSpaceOnUse" patternTransform="rotate(58)"><rect x="0" y="0" width="0.95" height="8" fill="#333"/></pattern>
<pattern id="hr" width="2.0" height="8" patternUnits="userSpaceOnUse" patternTransform="rotate(30)"><rect x="0" y="0" width="0.9" height="8" fill="#333"/></pattern>
</defs>
<g id="d2">
<path d="M517.4,198.5L557.7,173.7M519.8,199.3L564.4,171.8M522.2,200.0L566.8,172.5M524.6,200.8L569.2,173.3M527.0,201.5L571.5,174.0M529.4,202.3L573.9,174.8M531.8,203.1L576.3,175.6M534.2,203.8L578.7,176.3M536.5,204.6L581.1,177.1" stroke="#3c3c3c" stroke-width="0.98" fill="none"/>
<polygon points="517.4,198.5 562.0,171.0 581.5,177.2 536.9,204.7" fill="none" stroke="#333" stroke-width="0.6" stroke-linejoin="round" />
<path d="M522.1,218.0L522.4,217.6M524.1,218.6L528.2,212.5M526.0,219.1L533.9,207.3M527.9,219.6L537.8,205.0M529.9,220.2L539.8,205.5M531.8,220.7L541.7,206.0M533.7,221.2L543.7,206.5M535.7,221.8L545.6,207.0M537.6,222.3L547.5,207.6M539.5,222.9L549.5,208.1M541.5,223.4L551.4,208.6M543.4,223.9L553.4,209.1M545.3,224.5L555.3,209.6M547.2,225.0L557.3,210.2M549.2,225.5L559.2,210.7M551.1,226.1L561.1,211.2M553.0,226.6L563.1,211.7M555.0,227.1L565.0,212.2M556.9,227.7L567.0,212.7M558.8,228.2L568.9,213.3M560.8,228.7L570.8,213.8M562.7,229.3L572.8,214.3M564.6,229.8L574.7,214.8M566.6,230.3L576.7,215.3M568.5,230.9L578.6,215.9M570.4,231.4L580.5,216.4M572.4,231.9L582.5,216.9M574.3,232.5L584.4,217.4M576.2,233.0L586.4,217.9M578.1,233.5L588.3,218.5M580.1,234.1L590.3,219.0M582.0,234.6L592.2,219.5M583.9,235.1L594.1,220.0M585.9,235.7L596.1,220.5M587.8,236.2L598.0,221.1M589.7,236.8L600.0,221.6M591.7,237.3L601.9,222.1" stroke="#3c3c3c" stroke-width="0.98" fill="none"/>
<polygon points="536.9,204.7 603.0,222.4 592.8,237.6 522.0,218.0" fill="none" stroke="#333" stroke-width="0.6" stroke-linejoin="round" />
<path d="M616.8,244.3L625.3,228.3M618.7,244.8L627.2,228.8M620.6,245.3L629.1,229.3M622.5,245.8L631.0,229.8M624.3,246.3L632.9,230.3M626.2,246.9L634.8,230.8M628.1,247.4L636.6,231.3M630.0,247.9L638.5,231.8M631.8,248.4L640.4,232.3M633.7,248.9L642.3,232.8M635.6,249.5L644.2,233.3M637.5,250.0L646.1,233.8M639.3,250.5L647.9,234.3M641.2,251.0L649.8,234.8M643.1,251.5L651.7,235.3M645.0,252.0L653.6,235.8M646.8,252.6L655.5,236.3M648.7,253.1L657.4,236.8M650.6,253.6L659.3,237.3M652.5,254.1L661.1,237.8M654.3,254.6L663.0,238.3M656.2,255.2L664.9,238.8M658.1,255.7L666.8,239.3M660.0,256.2L668.7,239.8M661.9,256.7L670.6,240.3M663.7,257.2L672.4,240.8M665.6,257.7L674.3,241.3M667.5,258.3L676.2,241.8M669.4,258.8L678.1,242.3M671.2,259.3L680.0,242.9M673.1,259.8L681.9,243.4M675.0,260.3L683.8,243.9M676.9,260.9L685.6,244.4M678.7,261.4L687.5,244.9M680.6,261.9L689.4,245.4M682.5,262.4L691.3,245.9M684.4,262.9L693.2,246.4M687.6,261.0L695.1,246.9M690.9,258.7L696.9,247.4M694.3,256.4L698.8,247.9M697.7,254.0L700.7,248.4M701.1,251.7L702.6,248.9M704.5,249.4L704.5,249.4" stroke="#3c3c3c" stroke-width="0.98" fill="none"/>
<polygon points="624.0,227.9 704.5,249.4 684.6,263.0 615.5,243.9" fill="none" stroke="#333" stroke-width="0.6" stroke-linejoin="round" />
<path d="M706.8,250.1L772.1,207.7M709.1,250.9L774.6,208.3M711.4,251.6L777.1,209.0M713.8,252.4L779.6,209.6M716.1,253.1L782.1,210.3M718.5,253.9L784.6,210.9M720.8,254.6L787.1,211.6M723.1,255.3L789.5,212.2M725.5,256.1L792.0,212.9M727.8,256.8L772.8,227.6M730.2,257.6L731.0,257.0" stroke="#3c3c3c" stroke-width="0.98" fill="none"/>
<polygon points="704.5,249.4 771.0,207.4 793.3,213.2 730.2,257.6" fill="none" stroke="#333" stroke-width="0.6" stroke-linejoin="round" />
<path d="M760.2,184.9L760.5,184.3M754.3,200.3L762.5,184.9M755.5,202.3L764.4,185.4M757.6,202.6L766.4,185.9M759.6,202.9L768.4,186.5M761.7,203.3L770.4,187.0M763.8,203.6L772.4,187.5M765.9,203.9L774.4,188.1M768.0,204.2L776.3,188.6M770.1,204.5L778.3,189.1M772.2,204.9L780.3,189.6M774.3,205.2L782.3,190.2M776.4,205.5L784.3,190.7M778.5,205.8L786.2,191.2M780.6,206.2L788.2,191.8M782.7,206.5L790.2,192.3M784.8,206.8L792.2,192.8" stroke="#3c3c3c" stroke-width="0.98" fill="none"/>
<polygon points="753.6,202.0 760.4,184.3 792.4,192.9 786.0,207.0" fill="none" stroke="#333" stroke-width="0.6" stroke-linejoin="round" />
<path d="M611.9,104 C598,108 586,118 582.7,131 L583,150 L622,150 L622.4,117.6 L614.2,113.3 Z" fill="#fff" stroke="#222" stroke-width="0.9" stroke-linejoin="round" stroke-linecap="round" />
<path d="M611.9,104 L614.2,113.3" fill="none" stroke="#222" stroke-width="0.8" stroke-linejoin="round" stroke-linecap="round" />
<path d="M610,106.5 C598,110.5 589,119.5 585.7,131.5" fill="none" stroke="#222" stroke-width="0.7" stroke-linejoin="round" stroke-linecap="round" />
<path d="M607,108.5 C599,113 593,120 590.5,130" fill="none" stroke="#222" stroke-width="0.5" stroke-linejoin="round" stroke-linecap="round" />
<path d="M614,112.8 C604,113 598,120 595.5,131" fill="none" stroke="#222" stroke-width="0.8" stroke-linejoin="round" stroke-linecap="round" />
<path d="M597,113.3 L622.4,117.6" fill="none" stroke="#222" stroke-width="0.8" stroke-linejoin="round" stroke-linecap="round" />
<ellipse cx="598.5" cy="106.5" rx="0.9" ry="1.6" fill="#fff" stroke="#222" stroke-width="0.6"/>
<ellipse cx="588.5" cy="117.0" rx="0.9" ry="1.6" fill="#fff" stroke="#222" stroke-width="0.6"/>
<path d="M611.3,102 L612,104.5" fill="none" stroke="#222" stroke-width="1.0" stroke-linejoin="round" stroke-linecap="round" />
<polygon points="620.0,142.5 631.0,145.2 631.0,161.0 620.0,158.3" fill="#fff" stroke="#222" stroke-width="0.7" stroke-linejoin="round" />
<line x1="620.0" y1="143.8" x2="631.0" y2="146.5" stroke="#1a1a1a" stroke-width="1.4" />
<line x1="620.0" y1="145.9" x2="631.0" y2="148.6" stroke="#1a1a1a" stroke-width="1.4" />
<line x1="620.0" y1="148.0" x2="631.0" y2="150.7" stroke="#1a1a1a" stroke-width="1.4" />
<line x1="620.0" y1="150.1" x2="631.0" y2="152.8" stroke="#1a1a1a" stroke-width="1.4" />
<line x1="620.0" y1="152.2" x2="631.0" y2="154.9" stroke="#1a1a1a" stroke-width="1.4" />
<line x1="620.0" y1="154.3" x2="631.0" y2="157.0" stroke="#1a1a1a" stroke-width="1.4" />
<line x1="620.0" y1="156.4" x2="631.0" y2="159.1" stroke="#1a1a1a" stroke-width="1.4" />
<line x1="620.0" y1="158.5" x2="631.0" y2="161.2" stroke="#1a1a1a" stroke-width="1.4" />
<polygon points="714.0,141.0 740.0,148.5 740.0,200.0 714.0,194.0" fill="#fff" stroke="none" stroke-width="0.8" stroke-linejoin="round" />
<path d="M716,141.3 L738,147.8" fill="none" stroke="#222" stroke-width="0.8" stroke-linejoin="round" stroke-linecap="round" />
<polygon points="726.3,155.4 753.5,143.1 753.5,209.8 726.3,222.0" fill="#fff" stroke="#222" stroke-width="0.8" stroke-linejoin="round" />
<polygon points="749.5,209.5 757.0,206.3 759.5,207.5 752.0,210.8" fill="#fff" stroke="#222" stroke-width="0.7" stroke-linejoin="round" />
<line x1="751.5" y1="196.0" x2="751.5" y2="209.0" stroke="#222" stroke-width="0.6" />
<line x1="755.0" y1="196.0" x2="755.0" y2="207.5" stroke="#222" stroke-width="0.6" />
<ellipse cx="741.0" cy="171.4" rx="13.0" ry="24.0" fill="#fff" stroke="#222" stroke-width="1.5" transform="rotate(6 741.0 171.4)"/>
<ellipse cx="741.6" cy="171.4" rx="11.3" ry="22.0" fill="none" stroke="#222" stroke-width="0.5" transform="rotate(6 741.6 171.4)"/>
<path d="M743,159.5 C748,158 752,159 757,159 L757,170.8 C752,171 749,171.5 746,173.5 C743,169 742,164 743,159.5 Z" fill="#fff" stroke="#222" stroke-width="0.8" stroke-linejoin="round" stroke-linecap="round" />
<ellipse cx="757.4" cy="165.8" rx="2.6" ry="6.3" fill="#fff" stroke="#222" stroke-width="2.0"/>
<path d="M743,181 C748,179 752,179.5 755.5,179.5 L755.5,191 C752,191.3 749,192 746.5,194 C743.5,190 742.5,185 743,181 Z" fill="#fff" stroke="#222" stroke-width="0.8" stroke-linejoin="round" stroke-linecap="round" />
<ellipse cx="756.0" cy="185.0" rx="2.6" ry="6.3" fill="#fff" stroke="#222" stroke-width="2.0"/>
<path d="M727.5,141 L727.5,147 M730.5,142 L730.5,148 M726,143.5 L732,145" fill="none" stroke="#222" stroke-width="1.0" stroke-linejoin="round" stroke-linecap="round" />
<path d="M726.5,139.5 l3.5,-1.5 l1.5,1.5" fill="none" stroke="#222" stroke-width="1.0" stroke-linejoin="round" stroke-linecap="round" />
<path d="M640,101.7 C630,104 625,108 624.7,113 L624.7,135 L636,138 L636,112 Z" fill="#fff" stroke="#222" stroke-width="0.9" stroke-linejoin="round" stroke-linecap="round" />
<path d="M642,104 C634,106 629.5,110 629,115.5 L629,123" fill="none" stroke="#222" stroke-width="0.7" stroke-linejoin="round" stroke-linecap="round" />
<path d="M626,117 L626,140 M628.2,119 L628.2,142" fill="none" stroke="#222" stroke-width="0.9" stroke-linejoin="round" stroke-linecap="round" />
<polygon points="664.4,95.0 676.0,86.9 697.0,92.7 685.4,100.9" fill="#fff" stroke="#222" stroke-width="0.8" stroke-linejoin="round" />
<polygon points="664.4,95.0 685.4,100.9 685.4,108.0 664.4,102.0" fill="#fff" stroke="#222" stroke-width="0.8" stroke-linejoin="round" />
<polygon points="685.4,100.9 697.0,92.7 697.0,100.0 685.4,108.0" fill="#fff" stroke="#222" stroke-width="0.8" stroke-linejoin="round" />
<polygon points="690.0,127.7 718.0,114.9 718.0,172.0 690.0,186.0" fill="#fff" stroke="#222" stroke-width="0.8" stroke-linejoin="round" />
<polygon points="635.2,112.5 648.0,95.0 718.0,114.9 690.0,127.7" fill="#fff" stroke="#222" stroke-width="0.9" stroke-linejoin="round" />
<path d="M637.5,111.5 L649,97.3 L713.5,115.3" fill="none" stroke="#222" stroke-width="0.5" stroke-linejoin="round" stroke-linecap="round" />
<polygon points="635.2,112.5 690.0,127.7 690.0,188.0 635.2,172.5" fill="#fff" stroke="#222" stroke-width="0.9" stroke-linejoin="round" />
<polygon points="627.7,110.4 635.2,112.5 635.2,172.5 627.7,172.2" fill="#fff" stroke="#222" stroke-width="0.8" stroke-linejoin="round" />
<path d="M627.7,110.4 C630,104 636,98.5 648,95" fill="none" stroke="#222" stroke-width="0.8" stroke-linejoin="round" stroke-linecap="round" />
<line x1="661.6" y1="119.8" x2="661.6" y2="180.0" stroke="#222" stroke-width="0.8" />
<line x1="692.4" y1="128.5" x2="692.4" y2="185.0" stroke="#222" stroke-width="0.6" />
<line x1="637.0" y1="114.5" x2="637.0" y2="173.0" stroke="#222" stroke-width="0.5" />
<polygon points="639.8,106.7 652.7,97.4 667.9,100.9 655.0,110.2" fill="#fff" stroke="#222" stroke-width="0.8" stroke-linejoin="round" />
<polygon points="639.8,106.7 655.0,110.2 655.0,112.0 639.8,108.5" fill="#1a1a1a" stroke="#222" stroke-width="0.5" stroke-linejoin="round" />
<polygon points="655.0,110.2 667.9,100.9 667.9,102.7 655.0,112.0" fill="#1a1a1a" stroke="#222" stroke-width="0.5" stroke-linejoin="round" />
<polygon points="678.4,116.0 693.5,106.7 704.0,109.5 690.0,119.2" fill="#fff" stroke="#222" stroke-width="0.8" stroke-linejoin="round" />
<polygon points="678.4,116.0 690.0,119.2 690.0,121.2 678.4,118.0" fill="#1a1a1a" stroke="#222" stroke-width="0.5" stroke-linejoin="round" />
<polygon points="690.0,119.2 704.0,109.5 704.0,111.5 690.0,121.2" fill="#1a1a1a" stroke="#222" stroke-width="0.5" stroke-linejoin="round" />
<polygon points="671.5,110.2 683.0,105.5 690.0,107.9 678.4,112.5" fill="#fff" stroke="#222" stroke-width="0.7" stroke-linejoin="round" />
<path d="M656.9,145.5 L656.9,150.5" fill="none" stroke="#222" stroke-width="1.3" stroke-linejoin="round" stroke-linecap="round" />
<polygon points="664.4,147.6 674.9,150.5 674.9,162.5 664.4,159.6" fill="#fff" stroke="#222" stroke-width="1.0" stroke-linejoin="round" />
<polygon points="666.5,151.5 672.8,153.2 672.8,158.3 666.5,156.6" fill="#fff" stroke="#222" stroke-width="1.2" stroke-linejoin="round" />
<polygon points="694.7,137.0 714.6,126.5 714.6,166.2 697.0,174.4" fill="#fff" stroke="#222" stroke-width="0.8" stroke-linejoin="round" />
<polygon points="694.7,137.0 697.0,138.0 697.0,174.4 694.7,173.4" fill="#fff" stroke="#222" stroke-width="0.6" stroke-linejoin="round" />
<path d="M693.5,140 L693.5,186 M695.5,150 L695.5,184" fill="none" stroke="#222" stroke-width="0.9" stroke-linejoin="round" stroke-linecap="round" />
<polygon points="628.7,171.5 698.8,189.7 698.8,192.2 628.7,174.0" fill="#555" stroke="#222" stroke-width="0.7" stroke-linejoin="round" />
<polygon points="698.8,189.7 722.0,178.5 722.0,181.0 698.8,192.2" fill="#fff" stroke="#222" stroke-width="0.7" stroke-linejoin="round" />
<polygon points="630.0,174.3 639.5,176.8 635.5,186.3" fill="#fff" stroke="#222" stroke-width="0.8" stroke-linejoin="round" />
<polygon points="650.0,179.5 659.5,182.0 655.5,191.5" fill="#fff" stroke="#222" stroke-width="0.8" stroke-linejoin="round" />
<polygon points="670.0,184.7 679.5,187.2 675.5,196.7" fill="#fff" stroke="#222" stroke-width="0.8" stroke-linejoin="round" />
<polygon points="691.0,190.2 700.5,192.7 696.5,202.2" fill="#fff" stroke="#222" stroke-width="0.8" stroke-linejoin="round" />
<path d="M712,184 l5,-2.4 l-1,9 Z" fill="#fff" stroke="#222" stroke-width="0.8" stroke-linejoin="round" stroke-linecap="round" />
<polygon points="565.2,151.2 700.0,186.0 700.5,226.0 567.5,190.2" fill="#fff" stroke="none" stroke-width="0.8" stroke-linejoin="round" />
<path d="M567.5,190.2 L700.5,226" fill="none" stroke="#222" stroke-width="0.9" stroke-linejoin="round" stroke-linecap="round" />
<path d="M565.2,151.2 L640,171.2" fill="none" stroke="#222" stroke-width="0.9" stroke-linejoin="round" stroke-linecap="round" />
<polygon points="628.7,171.5 698.8,189.7 698.8,192.2 628.7,174.0" fill="#555" stroke="#222" stroke-width="0.7" stroke-linejoin="round" />
<polygon points="630.0,174.3 639.5,176.8 635.5,186.3" fill="#fff" stroke="#222" stroke-width="0.8" stroke-linejoin="round" />
<polygon points="650.0,179.5 659.5,182.0 655.5,191.5" fill="#fff" stroke="#222" stroke-width="0.8" stroke-linejoin="round" />
<polygon points="670.0,184.7 679.5,187.2 675.5,196.7" fill="#fff" stroke="#222" stroke-width="0.8" stroke-linejoin="round" />
<polygon points="691.0,190.2 700.5,192.7 696.5,202.2" fill="#fff" stroke="#222" stroke-width="0.8" stroke-linejoin="round" />
<path d="M565.2,151.2 C555,156 555,184 567.5,190.4 L571,170 Z" fill="#fff" stroke="none" stroke-width="0.8" stroke-linejoin="round" stroke-linecap="round" />
<path d="M565.2,151.2 C555,156 555,184 567.5,190.4" fill="none" stroke="#222" stroke-width="2.0" stroke-linejoin="round" stroke-linecap="round" />
<path d="M567.5,152 C558.5,157 558.5,183 569,189.5" fill="none" stroke="#222" stroke-width="0.7" stroke-linejoin="round" stroke-linecap="round" />
<path d="M574,190.5 C577,192.5 580.5,193.5 583,193.5" fill="none" stroke="#222" stroke-width="1.2" stroke-linejoin="round" stroke-linecap="round" />
<polygon points="558.9,156.0 561.7,155.4 561.7,202.0 558.9,202.0" fill="#fff" stroke="#222" stroke-width="0.7" stroke-linejoin="round" />
<polygon points="557.0,202.5 565.5,200.5 571.0,202.3 562.5,205.6" fill="#fff" stroke="#222" stroke-width="0.8" stroke-linejoin="round" />
<path d="M561.7,201 L571,196.5" fill="none" stroke="#222" stroke-width="0.6" stroke-linejoin="round" stroke-linecap="round" />
<polygon points="575.7,167.0 583.9,169.2 583.9,174.8 575.7,172.6" fill="#fff" stroke="#222" stroke-width="0.8" stroke-linejoin="round" />
<ellipse cx="661.6" cy="217.3" rx="2.6" ry="1.3" fill="#1a1a1a" stroke="#222" stroke-width="0.5"/>
<path d="M659.8,214.8 L659.8,216.8 M663.2,215.6 L663.2,217" fill="none" stroke="#222" stroke-width="0.7" stroke-linejoin="round" stroke-linecap="round" />
<polygon points="615.8,143.2 620.0,139.5 620.0,161.9 615.8,165.2" fill="#fff" stroke="#222" stroke-width="0.8" stroke-linejoin="round" />
<polygon points="569.1,131.6 572.6,127.8 620.0,139.5 615.8,143.2" fill="#fff" stroke="#222" stroke-width="0.8" stroke-linejoin="round" />
<polygon points="569.1,131.6 615.8,143.2 615.8,165.2 569.1,153.0" fill="#fff" stroke="#222" stroke-width="0.9" stroke-linejoin="round" />
<line x1="592.0" y1="137.3" x2="592.0" y2="159.0" stroke="#222" stroke-width="0.8" />
<polygon points="573.3,138.2 587.4,141.7 587.4,154.6 573.3,151.0" fill="#bbb" stroke="#222" stroke-width="1.2" stroke-linejoin="round" />
<ellipse cx="603.2" cy="155.4" rx="1.6" ry="1.6" fill="#1a1a1a" stroke="#222" stroke-width="0.4"/>
<ellipse cx="602.0" cy="143.5" rx="0.5" ry="0.5" fill="#1a1a1a" stroke="#222" stroke-width="0.2"/>
<ellipse cx="602.0" cy="148.0" rx="0.5" ry="0.5" fill="#1a1a1a" stroke="#222" stroke-width="0.2"/>
<ellipse cx="611.5" cy="150.5" rx="0.5" ry="0.5" fill="#1a1a1a" stroke="#222" stroke-width="0.2"/>
<ellipse cx="596.0" cy="146.0" rx="0.5" ry="0.5" fill="#1a1a1a" stroke="#222" stroke-width="0.2"/>
<ellipse cx="596.0" cy="151.0" rx="0.5" ry="0.5" fill="#1a1a1a" stroke="#222" stroke-width="0.2"/>
<polygon points="592.0,158.9 596.7,160.1 594.5,168.5" fill="#fff" stroke="#222" stroke-width="0.8" stroke-linejoin="round" />
<polygon points="615.2,164.9 620.0,161.9 617.8,174.0" fill="#fff" stroke="#222" stroke-width="0.8" stroke-linejoin="round" />
<polygon points="570.5,153.4 574.0,154.3 572.0,160.5" fill="#fff" stroke="#222" stroke-width="0.7" stroke-linejoin="round" />
<polygon points="699.6,192.0 716.0,183.5 716.0,190.0 703.4,196.0" fill="#fff" stroke="#222" stroke-width="0.7" stroke-linejoin="round" />
<polygon points="699.6,192.0 703.4,193.0 703.4,240.0 699.6,240.5" fill="#fff" stroke="#222" stroke-width="0.8" stroke-linejoin="round" />
<polygon points="696.3,241.3 704.0,239.0 708.6,240.3 701.0,243.8" fill="#fff" stroke="#222" stroke-width="0.8" stroke-linejoin="round" />
<ellipse cx="715.3" cy="208.7" rx="14.6" ry="23.7" fill="#fff" stroke="#222" stroke-width="1.5" transform="rotate(4 715.3 208.7)"/>
<ellipse cx="716.0" cy="208.7" rx="12.8" ry="21.8" fill="none" stroke="#222" stroke-width="0.5" transform="rotate(4 716.0 208.7)"/>
<path d="M716,195.5 C721,193.5 726,194 730.5,194 L730.5,207.2 C726,207.4 722,208 719.5,210.5 C716.5,206 715.5,200 716,195.5 Z" fill="#fff" stroke="#222" stroke-width="0.8" stroke-linejoin="round" stroke-linecap="round" />
<ellipse cx="730.2" cy="200.3" rx="2.7" ry="6.6" fill="#fff" stroke="#222" stroke-width="2.2"/>
<path d="M716,216.5 C721,214 725.5,214 729.5,214 L729.5,227.2 C725,227.6 722,228.5 719.5,231 C716.5,226.5 715.5,221 716,216.5 Z" fill="#fff" stroke="#222" stroke-width="0.8" stroke-linejoin="round" stroke-linecap="round" />
<ellipse cx="730.2" cy="220.6" rx="2.7" ry="6.6" fill="#fff" stroke="#222" stroke-width="2.2"/>
<polygon points="726.5,226.0 728.3,225.5 728.3,236.0 726.5,236.5" fill="#fff" stroke="#222" stroke-width="0.6" stroke-linejoin="round" />
<line x1="517.4" y1="198.5" x2="484.4" y2="219.5" stroke="#222" stroke-width="0.7" />
<line x1="522.0" y1="218.0" x2="497.0" y2="233.5" stroke="#222" stroke-width="0.7" />
<line x1="684.6" y1="263.0" x2="650.5" y2="285.4" stroke="#222" stroke-width="0.7" />
<line x1="730.2" y1="257.6" x2="700.0" y2="277.0" stroke="#222" stroke-width="0.7" />
<line x1="730.2" y1="257.6" x2="748.0" y2="262.0" stroke="#222" stroke-width="0.7" />
<line x1="793.3" y1="213.2" x2="815.5" y2="219.0" stroke="#222" stroke-width="0.7" />
<line x1="792.4" y1="192.9" x2="812.2" y2="198.6" stroke="#222" stroke-width="0.7" />
<line x1="506.3" y1="205.9" x2="528.2" y2="212.5" stroke="#1a1a1a" stroke-width="1.25" />
<polygon points="528.2,212.5 523.9,213.1 524.9,209.6" fill="#1a1a1a"/>
<polygon points="506.3,205.9 510.6,205.3 509.6,208.8" fill="#1a1a1a"/>
<line x1="499.0" y1="233.9" x2="661.2" y2="277.0" stroke="#1a1a1a" stroke-width="1.25" />
<polygon points="661.2,277.0 655.9,277.5 656.8,274.0" fill="#1a1a1a"/>
<polygon points="499.0,233.9 504.3,233.4 503.4,236.9" fill="#1a1a1a"/>
<line x1="685.0" y1="263.7" x2="708.9" y2="269.8" stroke="#1a1a1a" stroke-width="1.25" />
<polygon points="708.9,269.8 704.6,270.6 705.5,267.1" fill="#1a1a1a"/>
<polygon points="685.0,263.7 689.3,262.9 688.4,266.4" fill="#1a1a1a"/>
<line x1="593.5" y1="237.3" x2="606.7" y2="225.2" stroke="#1a1a1a" stroke-width="0.9" />
<polygon points="606.7,225.2 605.3,228.9 602.9,226.2" fill="#1a1a1a"/>
<polygon points="593.5,237.3 594.9,233.6 597.3,236.3" fill="#1a1a1a"/>
<line x1="739.6" y1="258.3" x2="804.5" y2="217.7" stroke="#1a1a1a" stroke-width="1.25" />
<polygon points="804.5,217.7 801.2,221.9 799.3,218.8" fill="#1a1a1a"/>
<polygon points="739.6,258.3 742.9,254.1 744.8,257.2" fill="#1a1a1a"/>
<line x1="787.7" y1="210.2" x2="805.1" y2="197.9" stroke="#1a1a1a" stroke-width="1.25" />
<polygon points="805.1,197.9 802.9,201.7 800.8,198.7" fill="#1a1a1a"/>
<polygon points="787.7,210.2 789.9,206.4 792.0,209.4" fill="#1a1a1a"/>
<line x1="765.4" y1="77.4" x2="765.4" y2="204.0" stroke="#222" stroke-width="0.7" />
<line x1="765.4" y1="204.0" x2="784.7" y2="205.8" stroke="#222" stroke-width="0.7" />
<line x1="737.1" y1="69.9" x2="794.7" y2="86.1" stroke="#222" stroke-width="0.7" />
<line x1="718.0" y1="112.2" x2="794.7" y2="131.2" stroke="#222" stroke-width="0.7" />
<line x1="784.6" y1="83.0" x2="784.6" y2="128.2" stroke="#1a1a1a" stroke-width="1.0" />
<polygon points="784.6,128.2 782.8,123.7 786.4,123.7" fill="#1a1a1a"/>
<polygon points="784.6,83.0 786.4,87.5 782.8,87.5" fill="#1a1a1a"/>
<line x1="784.6" y1="128.8" x2="784.6" y2="205.9" stroke="#1a1a1a" stroke-width="1.0" />
<polygon points="784.6,205.9 782.8,201.4 786.4,201.4" fill="#1a1a1a"/>
<polygon points="784.6,128.8 786.4,133.3 782.8,133.3" fill="#1a1a1a"/>
<text transform="translate(519.8 203.4) rotate(17) scale(1 1.0)" x="0" y="2.59" font-size="7.2" font-weight="bold" text-anchor="middle" fill="#1a1a1a" stroke="#1a1a1a" stroke-width="0.45">接管长度D</text>
<text transform="translate(578.5 259.0) rotate(0) scale(1 1.0)" x="0" y="3.24" font-size="9" font-weight="bold" text-anchor="middle" fill="#1a1a1a" stroke="#1a1a1a" stroke-width="0.45">A</text>
<text transform="translate(690.0 279.0) rotate(15) scale(1 1.0)" x="0" y="2.59" font-size="7.2" font-weight="bold" text-anchor="middle" fill="#1a1a1a" stroke="#1a1a1a" stroke-width="0.45">接管长度D</text>
<text transform="translate(606.0 233.6) rotate(-42.6) scale(1 0.72)" x="0" y="2.95" font-size="8.2" font-weight="bold" text-anchor="middle" fill="#1a1a1a" stroke="#1a1a1a" stroke-width="0.45">电柜维修空间</text>
<text transform="translate(614.4 236.8) rotate(-42) scale(1 1.0)" x="0" y="3.24" font-size="9" font-weight="normal" text-anchor="middle" fill="#1a1a1a" stroke="#1a1a1a" stroke-width="0.35">&gt;1000</text>
<text transform="translate(820.7 198.0) rotate(-32) scale(1 0.75)" x="0" y="2.88" font-size="8" font-weight="bold" text-anchor="middle" fill="#1a1a1a" stroke="#1a1a1a" stroke-width="0.45">电柜维修空间</text>
<text transform="translate(827.7 206.2) rotate(-30) scale(1 1.0)" x="0" y="3.46" font-size="9.6" font-weight="normal" text-anchor="middle" fill="#1a1a1a" stroke="#1a1a1a" stroke-width="0.35">&gt; 1000</text>
<text transform="translate(780.5 243.6) rotate(-57) scale(1 1.0)" x="0" y="3.06" font-size="8.5" font-weight="bold" text-anchor="middle" fill="#1a1a1a" stroke="#1a1a1a" stroke-width="0.45">B</text>
<text transform="translate(791.6 168.6) rotate(-90) scale(1 1.0)" x="0" y="3.24" font-size="9" font-weight="bold" text-anchor="middle" fill="#1a1a1a" stroke="#1a1a1a" stroke-width="0.45">C</text>
<text transform="translate(796.5 108.8) rotate(-90) scale(1 0.92)" x="0" y="2.63" font-size="7.3" font-weight="bold" text-anchor="middle" fill="#1a1a1a" stroke="#1a1a1a" stroke-width="0.45">顶部维修空间</text>
<text transform="translate(805.0 108.1) rotate(-90) scale(1 1.0)" x="0" y="3.31" font-size="9.2" font-weight="normal" text-anchor="middle" fill="#1a1a1a" stroke="#1a1a1a" stroke-width="0.35">&gt; 1000</text>
</g>
</svg>
</body>
</html>
